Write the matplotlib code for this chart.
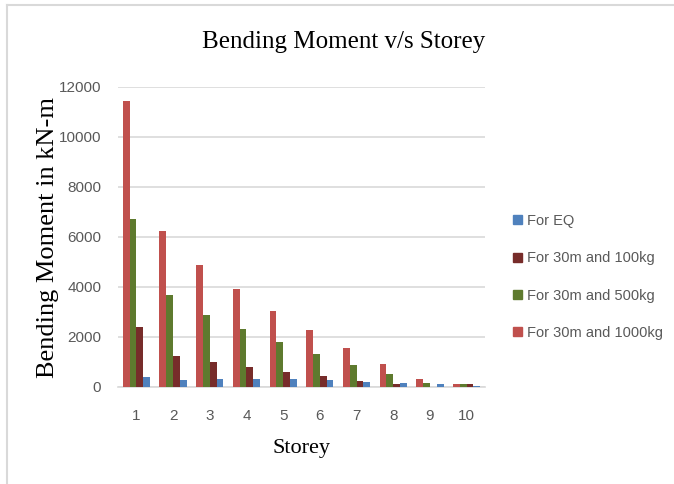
import numpy as np
import matplotlib.pyplot as plt
from matplotlib.lines import Line2D
from matplotlib.patches import Patch

storeys = [1, 2, 3, 4, 5, 6, 7, 8, 9, 10]
bm_eq = [390, 300, 310, 310, 310, 270, 220, 170, 130, 50]
bm_100kg = [2390, 1260, 1010, 790, 620, 440, 260, 120, 0, 130]
bm_500kg = [6730, 3680, 2870, 2310, 1800, 1320, 880, 540, 170, 130]
bm_1000kg = [11460, 6260, 4880, 3940, 3030, 2270, 1570, 920, 340, 130]

labels = ['For EQ', 'For 30m and 100kg', 'For 30m and 500kg',
          'For 30m and 1000kg']
colors = ['#4F81BD', '#772C2A', '#5E7A2E', '#C0504D']

serif = ['Liberation Serif', 'DejaVu Serif']
sans = ['Liberation Sans', 'DejaVu Sans']

fig = plt.figure(figsize=(6.74, 4.84), dpi=100)
ax = fig.add_axes([118 / 674, 1 - 387 / 484, 367 / 674, 300 / 484])

x = np.array(storeys)
w = 0.185
# Excel draws the series in reverse order inside each group
series = [bm_1000kg, bm_500kg, bm_100kg, bm_eq]
bar_cols = colors[::-1]
for i, (vals, c) in enumerate(zip(series, bar_cols)):
    ax.bar(x + (i - 1.5) * w, vals, width=w, color=c, zorder=3)

ax.set_xlim(0.5, 10.5)
ax.set_ylim(0, 12000)
ax.set_yticks(np.arange(0, 12001, 2000))
ax.set_xticks(storeys)
ax.grid(axis='y', color='#D9D9D9', linewidth=1.2, zorder=0)
for s in ['left', 'top', 'right']:
    ax.spines[s].set_visible(False)
ax.spines['bottom'].set_color('#D9D9D9')
ax.spines['bottom'].set_linewidth(1.2)
ax.tick_params(length=0, colors='#595959', labelsize=11)
ax.tick_params(axis='x', pad=15.5)
ax.tick_params(axis='y', pad=12)
for t in ax.get_xticklabels() + ax.get_yticklabels():
    t.set_family(sans)

ax.set_xlabel('Storey', family=serif, fontsize=16, labelpad=12)
ax.set_ylabel('Bending Moment in kN-m', family=serif, fontsize=19)
ax.yaxis.set_label_coords(-0.162, 0.5)
fig.text(344 / 674, 1 - 42 / 484, 'Bending Moment v/s Storey',
         family=serif, fontsize=18, ha='center', va='center')

handles = [Patch(color=c) for c in colors]
leg = fig.legend(handles, labels, loc='center left',
                 bbox_to_anchor=(513 / 674, 1 - 277 / 484),
                 frameon=False, borderaxespad=0, borderpad=0,
                 handlelength=0.6, handleheight=0.6,
                 handletextpad=0.35, labelspacing=1.6,
                 prop={'family': sans, 'size': 10.5})
for t in leg.get_texts():
    t.set_color('#595959')

# light frame of the chart area
fig.add_artist(Line2D([7 / 674, 7 / 674], [0, 1 - 5 / 484],
                      color='#D9D9D9', linewidth=1.5))
fig.add_artist(Line2D([7 / 674, 1], [1 - 5 / 484, 1 - 5 / 484],
                      color='#D9D9D9', linewidth=1.5))

fig.savefig('out.png', dpi=100)
